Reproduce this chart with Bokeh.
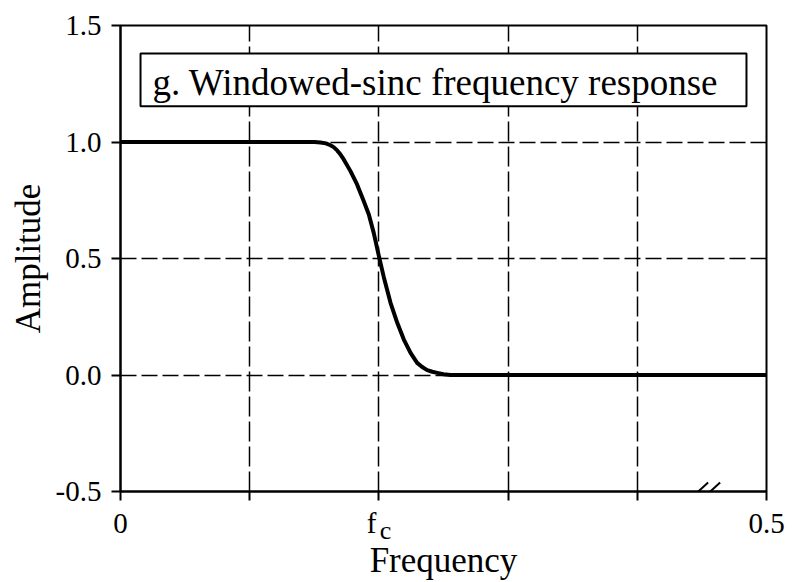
from bokeh.plotting import figure
from bokeh.models import (Range1d, FixedTicker, Label, BoxAnnotation, Arrow, LinearAxis)
from bokeh.embed import file_html
from bokeh.resources import INLINE

# Frequency response of a windowed-sinc low-pass filter (fraction of sampling rate)
freq = [0.0, 0.100, 0.150, 0.1548, 0.1590, 0.1625, 0.1650, 0.1677, 0.1703, 0.1728,
        0.1780, 0.1831, 0.1883, 0.1922, 0.1960, 0.2000, 0.2038, 0.2090, 0.2142,
        0.2193, 0.2245, 0.2296, 0.2335, 0.2374, 0.2413, 0.2451, 0.2500, 0.2554,
        0.300, 0.400, 0.500]
amplitude = [1.0, 1.0, 1.0, 0.998, 0.994, 0.986, 0.978, 0.964, 0.946, 0.925,
             0.875, 0.818, 0.746, 0.689, 0.610, 0.510, 0.420, 0.310, 0.224,
             0.152, 0.095, 0.052, 0.034, 0.021, 0.014, 0.009, 0.003, 0.0,
             0.0, 0.0, 0.0]

x_ticks = [0.0, 0.1, 0.2, 0.3, 0.4, 0.5]
x_tick_labels = {0.0: "0", 0.1: "", 0.2: "f\u2002", 0.3: "", 0.4: "", 0.5: "0.5"}
y_ticks = [-0.5, 0.0, 0.5, 1.0, 1.5]
y_tick_labels = {-0.5: "-0.5", 0.0: "0.0", 0.5: "0.5", 1.0: "1.0", 1.5: "1.5"}
cutoff = 0.2
cutoff_subscript = "\u2002c"
title_text = "g. Windowed-sinc frequency response"

SERIF = "Liberation Serif"

p = figure(width=806, height=582, output_backend="svg", toolbar_location=None,
           x_range=Range1d(0, 0.5), y_range=Range1d(-0.5, 1.5),
           min_border_left=120, min_border_right=40,
           min_border_top=25, min_border_bottom=90)
p.background_fill_color = "white"
p.border_fill_color = "white"
p.outline_line_color = "black"
p.outline_line_width = 2

# subscript row under the cutoff tick; carries the axis title
sub_axis = LinearAxis(ticker=FixedTicker(ticks=[cutoff]),
                      major_label_overrides={cutoff: cutoff_subscript})
p.add_layout(sub_axis, "below")

# axes
p.xaxis.ticker = FixedTicker(ticks=x_ticks)
p.xaxis[0].major_label_overrides = x_tick_labels
p.yaxis.ticker = FixedTicker(ticks=y_ticks)
p.yaxis.major_label_overrides = y_tick_labels
for ax in (p.xaxis[0], p.yaxis[0], sub_axis):
    ax.axis_line_color = "black"
    ax.axis_line_width = 2
    ax.major_tick_line_color = "black"
    ax.major_tick_line_width = 2
    ax.major_tick_out = 9
    ax.major_tick_in = 0
    ax.minor_tick_line_color = None
    ax.major_label_text_font = SERIF
    ax.major_label_text_font_size = "29px"
    ax.major_label_text_color = "black"
    ax.axis_label_text_font = SERIF
    ax.axis_label_text_font_size = "35px"
    ax.axis_label_text_font_style = "normal"
    ax.axis_label_text_color = "black"

sub_axis.ticker = FixedTicker(ticks=[cutoff])
sub_axis.axis_line_color = None
sub_axis.major_tick_line_color = None
sub_axis.major_tick_out = 0
sub_axis.major_label_text_font_size = "26px"
sub_axis.major_label_standoff = -26
sub_axis.axis_label = "Frequency"
sub_axis.axis_label_standoff = -7

p.yaxis.axis_label = "Amplitude"
p.xaxis[0].major_label_standoff = 6
p.yaxis.major_label_standoff = 10
p.yaxis.axis_label_standoff = 5

# dashed grid
p.xgrid.ticker = FixedTicker(ticks=x_ticks)
p.ygrid.ticker = FixedTicker(ticks=y_ticks)
p.xgrid.grid_line_color = "black"
p.ygrid.grid_line_color = "black"
p.xgrid.grid_line_width = 1.5
p.ygrid.grid_line_width = 1.5
p.xgrid.grid_line_dash = "20 5"
p.ygrid.grid_line_dash = "16 5"

# response curve
p.line(freq, amplitude, line_color="black", line_width=4, line_join="round")

# axis break mark
for x0 in (0.4396, 0.4489):
    p.add_layout(Arrow(x_start=x0, y_start=-0.5385, x_end=x0 + 0.0152, y_end=-0.4615,
                       end=None, line_color="black", line_width=2))

# boxed title
p.add_layout(BoxAnnotation(left=0.0155, right=0.4845, top=1.380, bottom=1.153,
                           fill_color="white", fill_alpha=1.0,
                           line_color="black", line_alpha=1.0, line_width=2,
                           level="annotation"))
p.add_layout(Label(x=0.0248, y=1.257, text=title_text, text_font=SERIF,
                   text_font_size="37px", text_color="black",
                   text_baseline="alphabetic", level="annotation"))

open("out.html", "w").write(file_html(p, INLINE))
